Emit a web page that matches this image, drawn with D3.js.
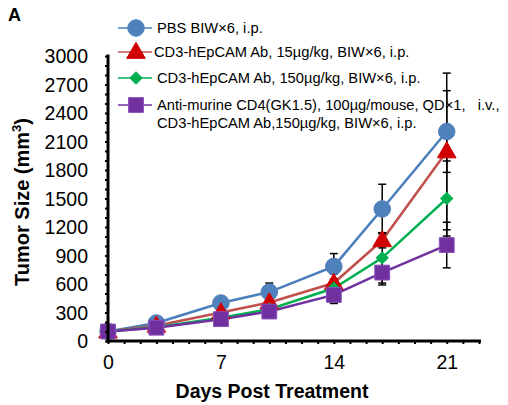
<!DOCTYPE html>
<html><head><meta charset="utf-8">
<script src="https://cdn.jsdelivr.net/npm/d3@7"></script>
<style>body{margin:0;background:#fff}svg{display:block}text{font-family:Arial,"Liberation Sans",sans-serif;white-space:pre}</style>
</head><body><svg id="c" width="508" height="405"></svg>
<script>
const days = [0, 3, 7, 10, 14, 17, 21];
const pbsMean = [100, 190, 400, 515, 785, 1390, 2205];
const pbsErr  = [15, 25, 55, 95, 135, 260, 430];
const lowMean = [100, 160, 300, 405, 610, 1060, 1995];
const lowErr  = [10, 20, 40, 50, 200, 80, 825];
const highMean = [100, 145, 245, 335, 555, 875, 1500];
const highErr  = [10, 15, 30, 40, 150, 265, 395];
const cd4Mean = [100, 140, 230, 310, 485, 720, 1010];
const cd4Err  = [10, 20, 30, 40, 90, 130, 240];
const yTicks = [0, 300, 600, 900, 1200, 1500, 1800, 2100, 2400, 2700, 3000];
const xTicks = [0, 7, 14, 21];
const legendLabels = [
  ["PBS BIW×6, i.p."],
  ["CD3-hEpCAM Ab, 15µg/kg, BIW×6, i.p."],
  ["CD3-hEpCAM Ab, 150µg/kg, BIW×6, i.p."],
  ["Anti-murine CD4(GK1.5), 100µg/mouse, QD×1,   i.v.,", "CD3-hEpCAM Ab,150µg/kg, BIW×6, i.p."]
];

const series = [
  {mean: pbsMean, err: pbsErr, line: "#4A7EBB", fill: "#4F81BD", stroke: "#4F81BD", shape: "circle"},
  {mean: lowMean, err: lowErr, line: "#C0504D", fill: "#D00000", stroke: "#D00000", shape: "triangle"},
  {mean: highMean, err: highErr, line: "#00B050", fill: "#00B050", stroke: "#00B050", shape: "diamond"},
  {mean: cd4Mean, err: cd4Err, line: "#7030A0", fill: "#7030A0", stroke: "#8A50B8", shape: "square"}
];

const svg = d3.select("#c");
const x = d3.scaleLinear().domain([0, 23]).range([108, 479]);
const y = d3.scaleLinear().domain([0, 3000]).range([341, 56]);

function sym(shape) {
  const m = {circle: [d3.symbolCircle, 215], triangle: [d3.symbolTriangle, 150], diamond: [d3.symbolSquare, 72], square: [d3.symbolSquare, 220]};
  return d3.symbol().type(m[shape][0]).size(m[shape][1])();
}
function markerTransform(shape, cx, cy) {
  if (shape === "triangle") return `translate(${cx},${cy + 1})`;
  if (shape === "diamond") return `translate(${cx},${cy}) rotate(45)`;
  return `translate(${cx},${cy})`;
}

// lines
const line = d3.line().x((d, i) => x(days[i])).y(d => y(d));
series.forEach(s => {
  svg.append("path").attr("d", line(s.mean)).attr("fill", "none").attr("stroke", s.line).attr("stroke-width", 2.5);
});
// error bars
series.forEach(s => {
  const g = svg.append("g").attr("stroke", "#000").attr("stroke-width", 1.5);
  s.mean.forEach((m, i) => {
    const cx = x(days[i]);
    g.append("line").attr("x1", cx).attr("x2", cx).attr("y1", y(m - s.err[i])).attr("y2", y(m + s.err[i]));
    [m - s.err[i], m + s.err[i]].forEach(v => {
      g.append("line").attr("x1", cx - 4).attr("x2", cx + 4).attr("y1", y(v)).attr("y2", y(v));
    });
  });
});
// markers
series.forEach(s => {
  s.mean.forEach((m, i) => {
    svg.append("path").attr("d", sym(s.shape))
      .attr("transform", markerTransform(s.shape, x(days[i]), y(m)))
      .attr("fill", s.fill).attr("stroke", s.stroke).attr("stroke-width", 1);
  });
});

// axes
const yAxis = d3.axisLeft(y).tickValues(d3.range(0, 3001, 100)).tickSize(3).tickFormat(d => yTicks.includes(d) ? d : "");
const gy = svg.append("g").attr("transform", "translate(108,0)").call(yAxis);
gy.select(".domain").remove();
gy.selectAll(".tick line").attr("stroke", "#000").attr("stroke-width", 2);
gy.selectAll(".tick text").attr("font-size", 19.5).attr("fill", "#000").attr("x", -20).attr("dy", "0.35em");
const xAxis = d3.axisBottom(x).tickValues(d3.range(0, 24, 1)).tickSize(3).tickFormat(d => xTicks.includes(d) ? d : "");
const gx = svg.append("g").attr("transform", "translate(0,341)").call(xAxis);
gx.select(".domain").remove();
gx.selectAll(".tick line").attr("stroke", "#000").attr("stroke-width", 2);
gx.selectAll(".tick text").attr("font-size", 19.5).attr("fill", "#000").attr("y", 14).attr("dy", "0.71em");
svg.append("line").attr("x1", 108).attr("x2", 108).attr("y1", 54.5).attr("y2", 342.5).attr("stroke", "#000").attr("stroke-width", 3);
svg.append("line").attr("x1", 106.5).attr("x2", 481).attr("y1", 341).attr("y2", 341).attr("stroke", "#000").attr("stroke-width", 3);

// titles
svg.append("text").attr("x", 8).attr("y", 21).attr("font-size", 18).attr("font-weight", "bold").text("A");
svg.append("text").attr("x", 272).attr("y", 398).attr("text-anchor", "middle").attr("font-size", 19.5).attr("font-weight", "bold").text("Days Post Treatment");
const yt = svg.append("text").attr("transform", "translate(29,202) rotate(-90)").attr("text-anchor", "middle").attr("font-size", 20).attr("font-weight", "bold");
yt.append("tspan").text("Tumor Size (mm");
yt.append("tspan").attr("font-size", 13).attr("dy", -8).text("3");
yt.append("tspan").attr("dy", 8).text(")");

// legend
const legY = [28, 52, 78, 105];
const legX = [157, 154, 157, 157];
series.forEach((s, i) => {
  const ly = legY[i];
  svg.append("line").attr("x1", 118).attr("x2", 152).attr("y1", ly).attr("y2", ly).attr("stroke", s.line).attr("stroke-width", 1.5);
  svg.append("path").attr("d", sym(s.shape)).attr("transform", markerTransform(s.shape, 136, ly))
    .attr("fill", s.fill).attr("stroke", s.stroke);
  legendLabels[i].forEach((t, j) => {
    svg.append("text").attr("x", legX[i]).attr("y", ly + j * 18).attr("dy", "0.35em").attr("font-size", 14.7).attr("fill", "#000").text(t);
  });
});
</script></body></html>
